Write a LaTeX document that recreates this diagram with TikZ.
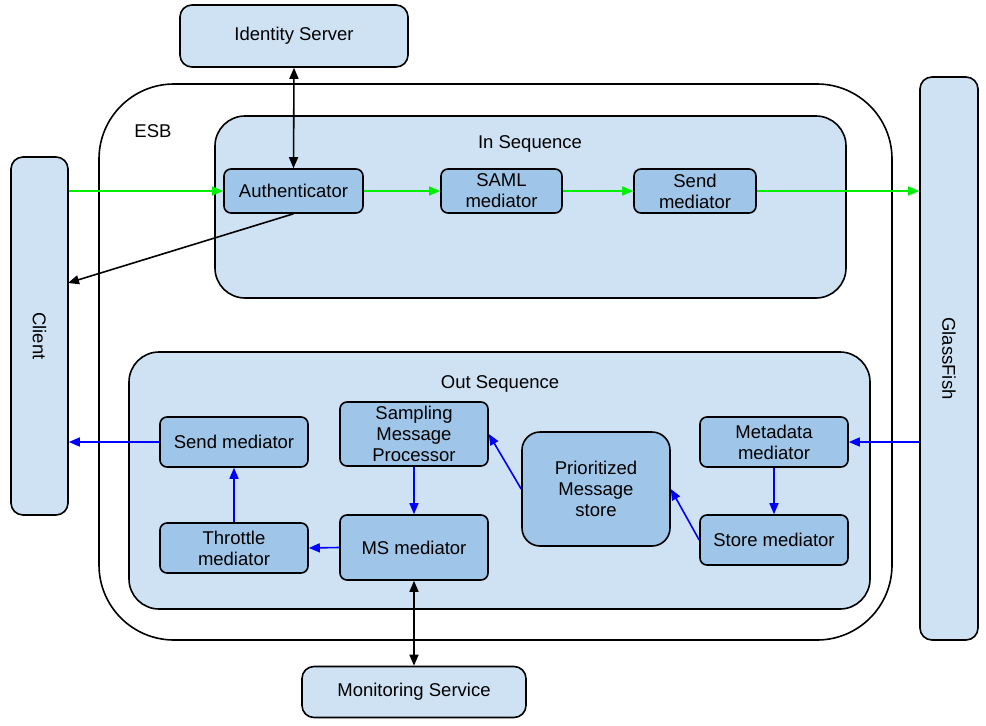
\documentclass[tikz,border=0pt]{standalone}
\usepackage{fontspec}
\setmainfont{Liberation Sans}
\usetikzlibrary{arrows.meta,calc}
\definecolor{lightb}{HTML}{CFE2F3}
\definecolor{midb}{HTML}{9FC5E8}
\definecolor{arrblue}{HTML}{0000FF}
\definecolor{arrgreen}{HTML}{00EE00}
\begin{document}
\begin{tikzpicture}[x=1pt,y=-1pt,
  every node/.style={font=\fontsize{18.5}{21}\selectfont},
  outerbox/.style={draw=black,line width=1.6pt,fill=lightb,rounded corners=12pt,inner sep=0pt,align=center},
  innerbox/.style={draw=black,line width=1.6pt,fill=midb,rounded corners=7pt,inner sep=0pt,align=center},
  conn/.style={line width=1.6pt,-{Triangle[length=11pt,width=9pt]}},
  biconn/.style={line width=1.6pt,{Triangle[length=11pt,width=9pt]}-{Triangle[length=11pt,width=9pt]}},
  bluec/.style={conn,draw=arrblue,-{Triangle[length=11pt,width=9pt,fill=arrblue]}},
  greenc/.style={conn,draw=arrgreen,-{Triangle[length=11pt,width=9pt,fill=arrgreen]}}
]
\useasboundingbox (0,0) rectangle (986,726);
% ESB container
\node[draw=black,line width=1.6pt,fill=white,rounded corners=75pt,minimum width=793,minimum height=556,inner sep=0pt] (esb) at (495.5,362) {};
\node (esblabel) at (153,131) {ESB};
% In Sequence
\node[outerbox,rounded corners=30pt,minimum width=631,minimum height=182] (inseq) at (530.5,207) {};
\node (inlabel) at (530,144) {In Sequence};
% Out Sequence
\node[outerbox,rounded corners=30pt,minimum width=741,minimum height=257] (outseq) at (499.5,480.5) {};
\node (outlabel) at (500,384) {Out Sequence};
% external
\node[outerbox,minimum width=228,minimum height=62] (ids) at (294,36) {Identity Server};
\node[outerbox,minimum width=224,minimum height=51] (mon) at (414,692) {Monitoring Service};
\node[outerbox,minimum width=57,minimum height=358] (client) at (39.5,336) {};
\node[rotate=-90] (clientlabel) at (39.5,336) {Client};
\node[outerbox,minimum width=58,minimum height=563] (glass) at (949,358.5) {};
\node[rotate=-90] (glasslabel) at (949,358.5) {GlassFish};
% in sequence mediators
\node[innerbox,minimum width=139,minimum height=44] (auth) at (293.5,191) {Authenticator};
\node[innerbox,minimum width=121,minimum height=44] (saml) at (501.5,191) {SAML\\mediator};
\node[innerbox,minimum width=122,minimum height=44] (sendin) at (695,191) {Send\\mediator};
% out sequence mediators
\node[innerbox,minimum width=148,minimum height=50] (sendout) at (234,442) {Send mediator};
\node[innerbox,minimum width=148,minimum height=64] (samp) at (414,434) {Sampling\\Message\\Processor};
\node[innerbox,minimum width=148,minimum height=50] (thr) at (234,548) {Throttle\\mediator};
\node[innerbox,minimum width=148,minimum height=65] (ms) at (414,547.5) {MS mediator};
\node[innerbox,rounded corners=18pt,minimum width=148,minimum height=114] (prio) at (596,489) {Prioritized\\Message\\store};
\node[innerbox,minimum width=148,minimum height=50] (meta) at (774,442) {Metadata\\mediator};
\node[innerbox,minimum width=148,minimum height=50] (store) at (774,540) {Store mediator};
% connectors
\draw[biconn] (ids.south) -- (auth.north);
\draw[greenc] (auth.west -| client.east) -- (auth.west);
\draw[greenc] (auth.east) -- (saml.west);
\draw[greenc] (saml.east) -- (sendin.west);
\draw[greenc] (sendin.east) -- (sendin.east -| glass.west);
\coordinate (cret) at (68,283);
\draw[conn] (auth.south) -- (cret);
\draw[bluec] (meta.east -| glass.west) -- (meta.east);
\draw[bluec] (meta.south) -- (store.north);
\draw[bluec] (store.west) -- (prio.east);
\draw[bluec] (prio.west) -- (samp.east);
\draw[bluec] (samp.south) -- (ms.north);
\draw[bluec] (ms.west) -- (thr.east);
\draw[bluec] (thr.north) -- (sendout.south);
\draw[bluec] (sendout.west) -- (sendout.west -| client.east);
\draw[biconn] (ms.south) -- (mon.north);
\end{tikzpicture}
\end{document}
